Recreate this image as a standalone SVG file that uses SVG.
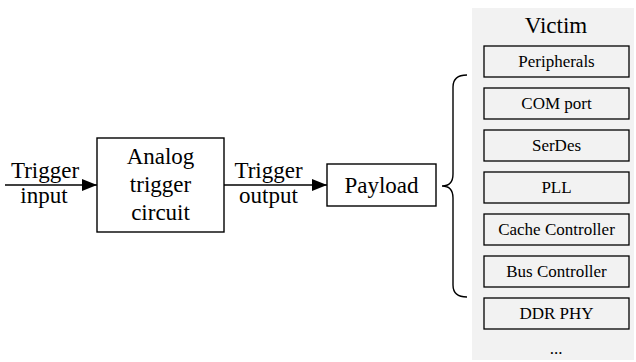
<svg xmlns="http://www.w3.org/2000/svg" width="636" height="362" viewBox="0 0 636 362">
<defs>
<marker id="arr" markerUnits="userSpaceOnUse" markerWidth="16" markerHeight="12" refX="15" refY="6" orient="auto">
<path d="M0,0 L15,6 L0,12 Z" fill="#000"/>
</marker>
<style>
text{font-family:"Liberation Serif","Times New Roman",serif;fill:#000;text-anchor:middle}
.big{font-size:23px}
.sm{font-size:17px}
.box{fill:#fff;stroke:#000;stroke-width:1.4}
.sbox{fill:none;stroke:#000;stroke-width:1.3}
.ln{fill:none;stroke:#000;stroke-width:1.4}
</style>
</defs>
<rect x="0" y="0" width="636" height="362" fill="#fff"/>
<g id="victim">
<rect x="472" y="8" width="162" height="352" fill="#f2f2f2"/>
<text class="big" x="556" y="33">Victim</text>
</g>
<g id="peripherals"><rect class="sbox" x="484" y="46" width="145" height="31"/><text class="sm" x="556.5" y="67">Peripherals</text></g>
<g id="com"><rect class="sbox" x="484" y="88" width="145" height="31"/><text class="sm" x="556.5" y="109">COM port</text></g>
<g id="serdes"><rect class="sbox" x="484" y="130" width="145" height="31"/><text class="sm" x="556.5" y="151">SerDes</text></g>
<g id="pll"><rect class="sbox" x="484" y="172" width="145" height="31"/><text class="sm" x="556.5" y="193">PLL</text></g>
<g id="cache"><rect class="sbox" x="484" y="214" width="145" height="31"/><text class="sm" x="556.5" y="235">Cache Controller</text></g>
<g id="bus"><rect class="sbox" x="484" y="256" width="145" height="31"/><text class="sm" x="556.5" y="277">Bus Controller</text></g>
<g id="ddr"><rect class="sbox" x="484" y="298" width="145" height="31"/><text class="sm" x="556.5" y="319">DDR PHY</text></g>
<g id="more"><text class="sm" x="556" y="354">...</text></g>
<g id="analog">
<rect class="box" x="97" y="138" width="127" height="94"/>
<text class="big" x="160.5" y="164">Analog</text>
<text class="big" x="160.5" y="192">trigger</text>
<text class="big" x="160.5" y="220">circuit</text>
</g>
<g id="payload">
<rect class="box" x="327" y="164" width="109" height="42"/>
<text class="big" x="381.5" y="193">Payload</text>
</g>
<g id="connectors">
<line class="ln" x1="5" y1="185" x2="97" y2="185" marker-end="url(#arr)"/>
<line class="ln" x1="224" y1="185" x2="327" y2="185" marker-end="url(#arr)"/>
<path class="ln" d="M467,75 C457,75 453,79 453,87 L453,174 C453,182 450,186 442,186 C450,186 453,190 453,198 L453,285 C453,293 457,297 467,297"/>
</g>
<g id="labels">
<text class="big" x="45" y="178">Trigger</text>
<text class="big" x="44" y="203">input</text>
<text class="big" x="268.5" y="178">Trigger</text>
<text class="big" x="268.5" y="203">output</text>
</g>
</svg>
